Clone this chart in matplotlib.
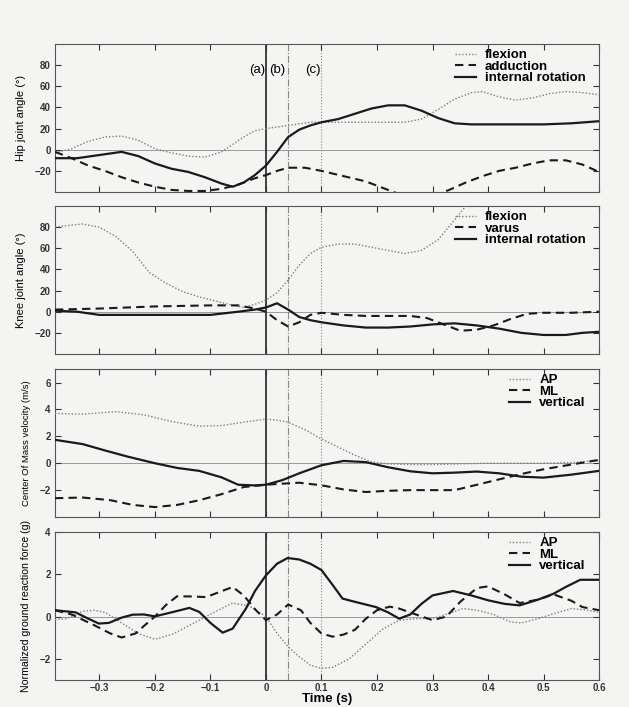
import matplotlib
matplotlib.use("Agg")
import matplotlib.pyplot as plt

plt.rcParams['font.family'] = ['Liberation Sans', 'DejaVu Sans']

# ---- hip joint angle (deg)
hip_flex_t = [-0.38, -0.35, -0.32, -0.29, -0.26, -0.23, -0.20, -0.17, -0.14, -0.11, -0.08, -0.06, -0.04,
              -0.02, 0.0, 0.04, 0.08, 0.12, 0.16, 0.20, 0.25, 0.28, 0.31, 0.34, 0.37, 0.39, 0.42, 0.45,
              0.48, 0.51, 0.54, 0.57, 0.60]
hip_flex = [-3, 1, 8, 12, 13, 9, 1, -3, -6, -7, -2, 5, 12, 18, 20, 23, 26, 26, 26, 26, 26, 29, 38, 48,
            54, 55, 50, 47, 49, 53, 55, 54, 52]
hip_add_t = [-0.38, -0.35, -0.32, -0.29, -0.26, -0.23, -0.20, -0.17, -0.14, -0.11, -0.08, -0.05, -0.02,
             0.0, 0.02, 0.04, 0.07, 0.10, 0.14, 0.18, 0.21, 0.24, 0.27, 0.30, 0.33, 0.36, 0.39, 0.42,
             0.45, 0.48, 0.51, 0.54, 0.57, 0.60]
hip_add = [-2, -8, -15, -20, -26, -31, -35, -38, -39, -39, -37, -33, -27, -24, -20, -17, -17, -20, -25,
           -30, -36, -42, -45, -44, -38, -31, -25, -20, -17, -13, -10, -10, -14, -21]
hip_rot_t = [-0.38, -0.34, -0.30, -0.26, -0.23, -0.20, -0.17, -0.14, -0.11, -0.08, -0.06, -0.04, -0.02,
             0.0, 0.02, 0.04, 0.06, 0.08, 0.10, 0.13, 0.16, 0.19, 0.22, 0.25, 0.28, 0.31, 0.34, 0.37,
             0.40, 0.45, 0.50, 0.55, 0.60]
hip_rot = [-8, -8, -5, -2, -6, -13, -18, -21, -26, -32, -35, -31, -24, -15, -2, 12, 19, 23, 26, 29, 34,
           39, 42, 42, 37, 30, 25, 24, 24, 24, 24, 25, 27]

# ---- knee joint angle (deg)
knee_flex_t = [-0.38, -0.35, -0.33, -0.30, -0.27, -0.24, -0.21, -0.18, -0.15, -0.12, -0.09, -0.06, -0.04,
               -0.02, 0.0, 0.02, 0.04, 0.06, 0.08, 0.10, 0.13, 0.16, 0.19, 0.22, 0.25, 0.28, 0.31, 0.34,
               0.36, 0.38]
knee_flex = [80, 82, 83, 80, 71, 57, 37, 27, 19, 14, 10, 6, 4, 7, 11, 18, 30, 44, 55, 61, 64, 64, 61, 58,
             55, 58, 68, 87, 100, 110]
knee_var_t = [-0.38, -0.30, -0.20, -0.10, -0.05, -0.02, 0.0, 0.02, 0.04, 0.06, 0.08, 0.10, 0.14, 0.18,
              0.22, 0.26, 0.29, 0.32, 0.35, 0.38, 0.41, 0.44, 0.47, 0.50, 0.55, 0.60]
knee_var = [2, 3, 5, 6, 6, 3, 0, -8, -14, -10, -3, -1, -3, -4, -4, -4, -6, -12, -18, -17, -13, -7, -2,
            -1, -1, 0]
knee_rot_t = [-0.38, -0.34, -0.30, -0.20, -0.10, -0.05, -0.02, 0.0, 0.02, 0.04, 0.06, 0.08, 0.10, 0.14,
              0.18, 0.22, 0.26, 0.30, 0.34, 0.38, 0.42, 0.46, 0.50, 0.54, 0.57, 0.60]
knee_rot = [1, 0, -3, -3, -3, 0, 2, 4, 8, 2, -5, -8, -10, -13, -15, -15, -14, -12, -11, -13, -16, -20,
            -22, -22, -20, -19]

# ---- centre of mass velocity (m/s)
com_ap_t = [-0.38, -0.33, -0.27, -0.22, -0.17, -0.12, -0.08, -0.04, 0.0, 0.02, 0.04, 0.07, 0.10, 0.13,
            0.16, 0.19, 0.22, 0.26, 0.30, 0.35, 0.40, 0.45, 0.50, 0.55, 0.60]
com_ap = [3.7, 3.65, 3.83, 3.6, 3.1, 2.75, 2.8, 3.05, 3.28, 3.2, 3.05, 2.5, 1.8, 1.2, 0.6, 0.1, -0.05,
          -0.1, -0.1, -0.05, 0.0, 0.0, 0.0, 0.05, 0.2]
com_ml_t = [-0.38, -0.33, -0.28, -0.24, -0.20, -0.16, -0.12, -0.08, -0.04, 0.0, 0.03, 0.06, 0.10, 0.14,
            0.18, 0.22, 0.26, 0.30, 0.34, 0.38, 0.42, 0.46, 0.50, 0.55, 0.60]
com_ml = [-2.6, -2.55, -2.75, -3.1, -3.26, -3.1, -2.75, -2.3, -1.77, -1.6, -1.52, -1.45, -1.64, -1.95,
          -2.14, -2.05, -2.0, -2.0, -2.0, -1.6, -1.2, -0.8, -0.45, -0.1, 0.25]
com_v_t = [-0.38, -0.33, -0.29, -0.25, -0.20, -0.16, -0.12, -0.08, -0.05, -0.02, 0.0, 0.03, 0.06, 0.10,
           0.14, 0.18, 0.22, 0.26, 0.30, 0.34, 0.38, 0.42, 0.46, 0.50, 0.55, 0.60]
com_v = [1.74, 1.42, 0.95, 0.5, 0.0, -0.35, -0.57, -1.05, -1.6, -1.65, -1.6, -1.25, -0.75, -0.15, 0.17,
         0.08, -0.3, -0.6, -0.75, -0.7, -0.62, -0.75, -1.0, -1.07, -0.85, -0.57]

# ---- normalized ground reaction force (g)
grf_ap_t = [-0.38, -0.36, -0.33, -0.31, -0.29, -0.26, -0.23, -0.20, -0.17, -0.14, -0.12, -0.09, -0.06,
            -0.03, 0.0, 0.02, 0.04, 0.06, 0.08, 0.10, 0.12, 0.15, 0.18, 0.21, 0.24, 0.27, 0.30, 0.33,
            0.355, 0.38, 0.41, 0.44, 0.46, 0.49, 0.52, 0.55, 0.58, 0.60]
grf_ap = [-0.15, -0.1, 0.25, 0.3, 0.2, -0.3, -0.8, -1.07, -0.85, -0.45, -0.17, 0.25, 0.64, 0.5, 0.0,
          -0.8, -1.43, -1.9, -2.3, -2.45, -2.4, -2.0, -1.3, -0.6, -0.17, -0.1, -0.1, 0.15, 0.38, 0.3, 0.1,
          -0.25, -0.3, -0.1, 0.15, 0.38, 0.3, 0.2]
grf_ml_t = [-0.38, -0.35, -0.31, -0.28, -0.26, -0.235, -0.22, -0.20, -0.18, -0.16, -0.13, -0.108, -0.08,
            -0.06, -0.04, -0.018, 0.0, 0.02, 0.04, 0.063, 0.08, 0.10, 0.12, 0.14, 0.16, 0.18, 0.20,
            0.223, 0.24, 0.27, 0.30, 0.325, 0.35, 0.38, 0.40, 0.43, 0.457, 0.49, 0.518, 0.55, 0.57, 0.60]
grf_ml = [0.3, 0.1, -0.4, -0.8, -0.99, -0.8, -0.45, 0.0, 0.55, 0.96, 0.95, 0.92, 1.2, 1.4, 1.0, 0.3,
          -0.17, 0.1, 0.57, 0.3, -0.3, -0.8, -0.95, -0.85, -0.63, -0.1, 0.3, 0.47, 0.38, 0.1, -0.17, 0.0,
          0.7, 1.35, 1.43, 1.05, 0.64, 0.8, 1.05, 0.75, 0.45, 0.3]
grf_v_t = [-0.38, -0.343, -0.32, -0.301, -0.283, -0.26, -0.24, -0.22, -0.20, -0.17, -0.138, -0.12, -0.10,
           -0.078, -0.06, -0.036, -0.02, 0.0, 0.02, 0.039, 0.06, 0.08, 0.10, 0.12, 0.138, 0.16, 0.198,
           0.22, 0.24, 0.26, 0.28, 0.30, 0.337, 0.37, 0.40, 0.43, 0.457, 0.49, 0.518, 0.54, 0.566, 0.60]
grf_v = [0.3, 0.2, -0.1, -0.33, -0.3, -0.05, 0.09, 0.1, 0.01, 0.2, 0.41, 0.22, -0.3, -0.76, -0.57, 0.38,
         1.2, 1.95, 2.5, 2.77, 2.7, 2.5, 2.2, 1.5, 0.85, 0.7, 0.45, 0.2, -0.1, 0.1, 0.6, 1.0, 1.21, 1.0,
         0.77, 0.6, 0.53, 0.8, 1.08, 1.4, 1.74, 1.74]

x_ticks = [-0.3, -0.2, -0.1, 0, 0.1, 0.2, 0.3, 0.4, 0.5, 0.6]
x_ticklabels = ['\u22120.3', '\u22120.2', '\u22120.1', '0', '0.1', '0.2', '0.3', '0.4', '0.5', '0.6']

panels = [
    dict(ylabel='Hip joint angle (\u00b0)', ylsize=8, ylim=(-40, 100), yticks=[-20, 0, 20, 40, 60, 80],
         series=[(hip_flex_t, hip_flex, 'flexion'), (hip_add_t, hip_add, 'adduction'),
                 (hip_rot_t, hip_rot, 'internal rotation')]),
    dict(ylabel='Knee joint angle (\u00b0)', ylsize=8, ylim=(-40, 100), yticks=[-20, 0, 20, 40, 60, 80],
         series=[(knee_flex_t, knee_flex, 'flexion'), (knee_var_t, knee_var, 'varus'),
                 (knee_rot_t, knee_rot, 'internal rotation')]),
    dict(ylabel='Center Of Mass velocity (m/s)', ylsize=6.8, ylim=(-4, 7), yticks=[-2, 0, 2, 4, 6],
         series=[(com_ap_t, com_ap, 'AP'), (com_ml_t, com_ml, 'ML'), (com_v_t, com_v, 'vertical')]),
    dict(ylabel='Normalized ground reaction force (g)', ylsize=7.6, ylim=(-3, 4), yticks=[-2, 0, 2, 4],
         series=[(grf_ap_t, grf_ap, 'AP'), (grf_ml_t, grf_ml, 'ML'), (grf_v_t, grf_v, 'vertical')]),
]

styles = [dict(color='#7d7d7d', lw=1.0, ls=(0, (1, 1.4))),
          dict(color='#1a1a1a', lw=1.5, ls=(0, (4, 2.5))),
          dict(color='#1a1a1a', lw=1.6, ls='-')]

bg = '#f4f4f2'
fig = plt.figure(figsize=(6.29, 7.07), dpi=100, facecolor=bg)
bottoms = [0.7284, 0.4993, 0.2687, 0.0382]
for i, (p, b) in enumerate(zip(panels, bottoms)):
    ax = fig.add_axes([0.0874, b, 0.865, 0.2093], facecolor=bg)
    ax.axhline(0, color='#9a9a9a', lw=0.7, zorder=1)
    ax.axvline(0, color='#222222', lw=1.2, zorder=1)
    ax.axvline(0.04, color='#888888', lw=0.8, ls='-.', zorder=1)
    ax.axvline(0.1, color='#888888', lw=0.8, ls=':', zorder=1)
    for (t, v, name), st in zip(p['series'], styles):
        ax.plot(t, v, label=name, zorder=3, **st)
    ax.set_xlim(-0.38, 0.6)
    ax.set_ylim(*p['ylim'])
    ax.set_yticks(p['yticks'])
    ax.set_xticks(x_ticks)
    ax.tick_params(direction='in', top=True, right=True, labelright=False, length=4,
                   width=0.8, colors='#333333', labelsize=7, pad=3)
    for lbl in ax.get_yticklabels():
        lbl.set_fontweight('bold')
    if i == 3:
        ax.set_xticklabels(x_ticklabels, fontweight='bold')
        ax.tick_params(axis='x', pad=2)
        ax.set_xlabel('Time (s)', fontsize=9.5, fontweight='bold', labelpad=0)
    else:
        ax.set_xticklabels([])
    ax.set_ylabel(p['ylabel'], fontsize=p['ylsize'], labelpad=6)
    for s in ax.spines.values():
        s.set_color('#555555')
        s.set_linewidth(0.8)
    ax.legend(loc='upper right', bbox_to_anchor=(0.99, 1.02), frameon=False,
              prop={'size': 9.5, 'weight': 'bold'}, handlelength=1.6, handletextpad=0.7,
              labelspacing=-0.05, borderaxespad=0.2)
    if i == 0:
        ax.text(-0.001, 75, '(a)', ha='right', va='center', fontsize=9.5)
        ax.text(0.02, 75, '(b)', ha='center', va='center', fontsize=9.5)
        ax.text(0.099, 75, '(c)', ha='right', va='center', fontsize=9.5)

fig.savefig('out.png', dpi=100, facecolor=bg)
